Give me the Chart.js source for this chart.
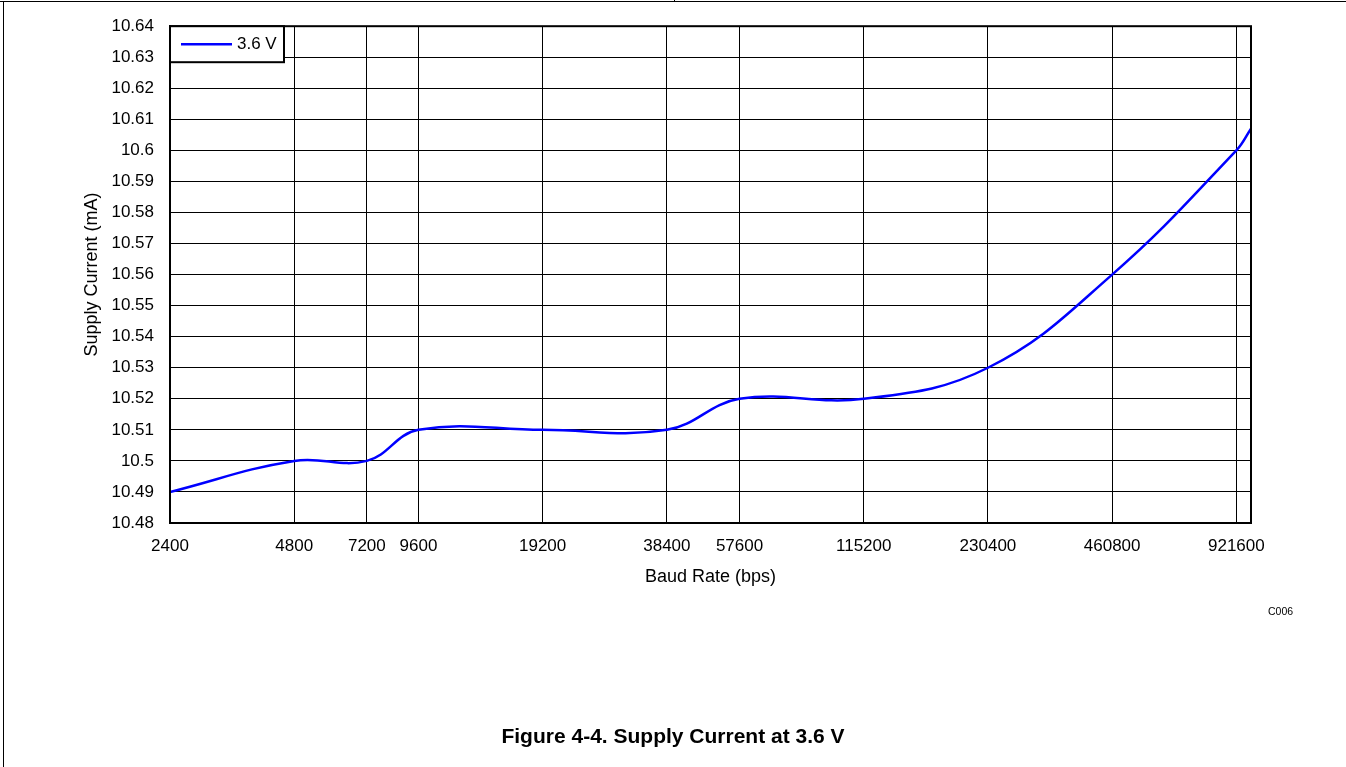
<!DOCTYPE html>
<html>
<head>
<meta charset="utf-8">
<script src="https://cdn.jsdelivr.net/npm/chart.js@4/dist/chart.umd.min.js"></script>
<style>
  html, body { margin: 0; padding: 0; background: #fff; }
  #wrap { position: relative; width: 1346px; height: 767px; overflow: hidden; font-family: "Liberation Sans", Arial, sans-serif; }
  #c { position: absolute; left: 0; top: 0; }
  .topline { position: absolute; left: 0; top: 1px; width: 1346px; height: 1px; background: #000; }
  .leftline { position: absolute; left: 3px; top: 1px; width: 1px; height: 766px; background: #000; }
  .tick { position: absolute; left: 674px; top: 0; width: 1px; height: 2px; background: #000; }
  #code { position: absolute; left: 1268px; top: 605px; font-size: 10.5px; color: #000; }
  #caption { position: absolute; left: 0; width: 1346px; top: 724px; text-align: center; font-weight: bold; font-size: 21px; color: #000; }
</style>
</head>
<body>
<div id="wrap">
  <canvas id="c" width="1346" height="767"></canvas>
  <div class="topline"></div>
  <div class="leftline"></div>
  <div class="tick"></div>
  <div id="code">C006</div>
  <div id="caption">Figure 4-4. Supply Current at 3.6 V</div>
</div>
<script>
// ---- data ----
const baudRates = [2400, 4800, 7200, 9600, 19200, 38400, 57600, 115200, 230400, 460800, 921600, 1000000];
const supplyCurrent = [10.49, 10.50, 10.50, 10.51, 10.51, 10.51, 10.52, 10.52, 10.53, 10.56, 10.60, 10.607];
const seriesLabel = "3.6 V";
const xTicks = [2400, 4800, 7200, 9600, 19200, 38400, 57600, 115200, 230400, 460800, 921600];
const yTicks = [10.48, 10.49, 10.50, 10.51, 10.52, 10.53, 10.54, 10.55, 10.56, 10.57, 10.58, 10.59, 10.60, 10.61, 10.62, 10.63, 10.64];
const xTitle = "Baud Rate (bps)";
const yTitle = "Supply Current (mA)";

const FONT = "'Liberation Sans', Arial, sans-serif";

const frameAndLegend = {
  id: 'frameAndLegend',
  afterDatasetsDraw(chart) {
    const { ctx, chartArea } = chart;
    const { left, top, right, bottom } = chartArea;
    ctx.save();
    // plot frame
    ctx.lineWidth = 2;
    ctx.strokeStyle = '#000';
    ctx.strokeRect(left, top, right - left, bottom - top);
    // legend box
    const ds = chart.data.datasets[0];
    const w = 114, h = 36;
    ctx.fillStyle = '#fff';
    ctx.fillRect(left, top, w, h);
    ctx.strokeRect(left, top, w, h);
    ctx.beginPath();
    ctx.strokeStyle = ds.borderColor;
    ctx.lineWidth = 2.5;
    ctx.moveTo(left + 11, top + 18);
    ctx.lineTo(left + 62, top + 18);
    ctx.stroke();
    ctx.fillStyle = '#000';
    ctx.font = "17px " + FONT;
    ctx.textBaseline = 'middle';
    ctx.textAlign = 'left';
    ctx.fillText(ds.label, left + 67, top + 18);
    ctx.restore();
  }
};

new Chart(document.getElementById('c'), {
  type: 'line',
  data: {
    datasets: [{
      label: seriesLabel,
      data: baudRates.map((x, i) => ({ x: x, y: supplyCurrent[i] })),
      borderColor: '#0000ff',
      backgroundColor: '#0000ff',
      borderWidth: 2.5,
      pointRadius: 0,
      tension: 0.4,
      fill: false
    }]
  },
  options: {
    responsive: false,
    animation: false,
    layout: { padding: { left: 0, top: 23, right: 95, bottom: 0 } },
    plugins: { legend: { display: false }, tooltip: { enabled: false } },
    scales: {
      x: {
        type: 'logarithmic',
        min: 2400,
        max: 1000000,
        afterBuildTicks: (s) => { s.ticks = xTicks.map(v => ({ value: v })); },
        afterFit: (s) => { s.height = 244; },
        ticks: {
          autoSkip: false,
          maxRotation: 0,
          padding: 13,
          color: '#000',
          font: { family: FONT, size: 17 },
          callback: (v) => String(v)
        },
        grid: { color: '#000', lineWidth: 1, drawTicks: false },
        border: { color: '#000', width: 2 },
        title: {
          display: true,
          text: xTitle,
          color: '#000',
          font: { family: FONT, size: 18 },
          padding: { top: 4, bottom: 179 }
        }
      },
      y: {
        type: 'linear',
        min: 10.48,
        max: 10.64,
        afterBuildTicks: (s) => { s.ticks = yTicks.map(v => ({ value: v })); },
        afterFit: (s) => { s.width = 170; },
        ticks: {
          padding: 16,
          color: '#000',
          font: { family: FONT, size: 17 },
          callback: (v) => String(Number(Number(v).toFixed(2)))
        },
        grid: { color: '#000', lineWidth: 1, drawTicks: false },
        border: { color: '#000', width: 2 },
        title: {
          display: true,
          text: yTitle,
          color: '#000',
          font: { family: FONT, size: 18 },
          padding: { top: 81, bottom: 4 }
        }
      }
    }
  },
  plugins: [frameAndLegend]
});
</script>
</body>
</html>
